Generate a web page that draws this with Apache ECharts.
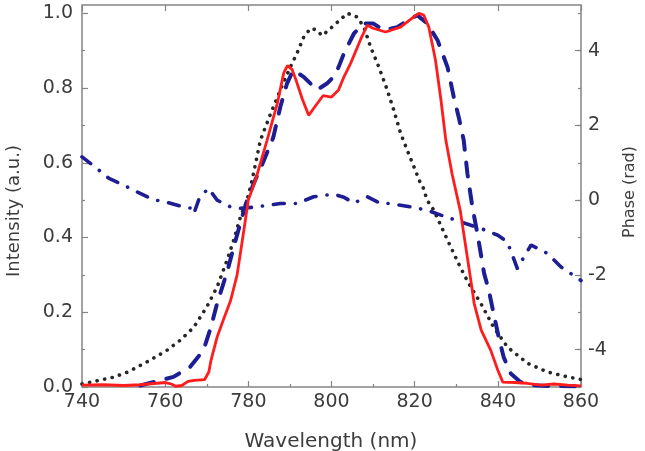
<!DOCTYPE html>
<html>
<head>
<meta charset="utf-8">
<script src="https://cdn.jsdelivr.net/npm/echarts@6/dist/echarts.min.js"></script>
<style>html,body{margin:0;padding:0;background:#fff;}#c{width:645px;height:451px;}</style>
</head>
<body>
<div id="c"></div>
<script>
// Axis tick values
var xTicks = [740, 760, 780, 800, 820, 840, 860];
var intensityTicks = [0.0, 0.2, 0.4, 0.6, 0.8, 1.0];
var phaseTicks = [-4, -2, 0, 2, 4];

// Red solid: measured intensity
var redWl  = [740,745,750,754,758,760,761.5,762.5,764,765.5,767,769.5,770.5,771,772.5,774,775.7,777.3,778.8,780,781.7,784.5,787,788.5,789.4,790.5,791.5,793,794.5,796,798,800,801.7,803,804.6,807,808.6,810,813,816.6,819.4,821,822.2,823.4,825,826.3,827.5,829,830.2,831,832.3,833.5,834.3,836,838.3,840,841.2,844,847,850.4,853.5,856.8,860];
var redInt = [0.005,0.006,0.004,0.006,0.01,0.012,0.008,0.002,0.004,0.015,0.018,0.02,0.04,0.07,0.134,0.18,0.23,0.30,0.41,0.50,0.553,0.66,0.76,0.84,0.86,0.85,0.82,0.77,0.727,0.75,0.78,0.776,0.795,0.83,0.866,0.93,0.968,0.96,0.95,0.963,0.987,1.0,0.995,0.963,0.875,0.77,0.66,0.57,0.51,0.47,0.374,0.286,0.224,0.152,0.098,0.045,0.013,0.012,0.01,0.005,0.008,0.005,0.003];

// Black dotted: spectrum
var dotWl  = [740,743,747.5,751,755.6,760.4,763.6,766.9,770,772.5,774.9,776.4,778.1,779.7,780.9,782.9,785.3,787.7,790.1,791.7,793.3,795,796.5,797.7,799.3,801.4,803.8,806.2,807.8,809.4,811.4,813.4,815,816.6,818.2,819.8,821.4,822,823,824.6,827.9,831,833,835.9,839,842.3,847.2,852,856.8,860];
var dotInt = [0.008,0.015,0.026,0.04,0.067,0.098,0.125,0.16,0.214,0.268,0.34,0.39,0.455,0.5,0.553,0.66,0.73,0.795,0.856,0.893,0.936,0.96,0.955,0.94,0.955,0.976,1.0,0.99,0.963,0.91,0.856,0.795,0.74,0.68,0.634,0.59,0.545,0.535,0.5,0.473,0.393,0.32,0.277,0.224,0.16,0.107,0.063,0.04,0.027,0.02];

// Blue dashed: target intensity
var dashWl  = [754,757.1,762,766,769.2,771,772.5,775,776.5,778.5,779.7,781.5,783.5,786,787.7,789.3,790.8,793.3,796.5,798.9,800.5,801.7,803,805.4,807.8,810,812.5,815.8,818.2,820.6,823,825.5,827.9,829.4,830.6,831.8,832.7,833.9,835.1,836.7,837.8,839,840.2,841.4,843.1,845.5,848.7,852,860];
var dashInt = [0.004,0.013,0.027,0.054,0.098,0.16,0.224,0.312,0.375,0.455,0.5,0.55,0.6,0.668,0.75,0.812,0.848,0.83,0.795,0.812,0.83,0.856,0.893,0.946,0.973,0.973,0.955,0.963,0.98,0.995,0.973,0.928,0.856,0.776,0.722,0.66,0.57,0.48,0.41,0.304,0.26,0.196,0.134,0.08,0.036,0.013,0.005,0.003,0.002];

// Blue dash-dot: phase (rad), right axis
var phaseWl  = [740,743,746.5,750,754,757,760.4,764.4,766.4,766.9,768.2,770.4,772.5,775.7,778,782,787.7,791.7,795.7,800.5,803,805.3,808.6,811.8,814,819,823,826.3,831,836,840,842.3,844.7,846.3,848,852,855.2,860];
var phaseVal = [1.16,0.9,0.58,0.4,0.18,0.02,-0.06,-0.18,-0.22,-0.36,0.05,0.32,0.0,-0.18,-0.22,-0.18,-0.09,-0.09,0.09,0.16,0.08,-0.08,0.09,-0.09,-0.09,-0.18,-0.27,-0.4,-0.58,-0.76,-0.94,-1.12,-1.83,-1.52,-1.2,-1.43,-1.79,-2.15];

function zip(a, b) { return a.map(function (v, i) { return [v, b[i]]; }); }

var FONT = 'DejaVu Sans';
var TXT = '#3c3c3c';
var FRAME = '#858585';

var chart = echarts.init(document.getElementById('c'), null, {renderer: 'canvas'});
var L = 82, R = 64, B = 64;
var topA = 13.3;
var hA = 451 - topA - B;
var mid = topA + hA / 2, unit = hA / 10;

chart.setOption({
  animation: false,
  backgroundColor: '#ffffff',
  grid: [
    {left: L, right: R, top: 5, bottom: B, show: true, borderColor: FRAME, borderWidth: 1.5, backgroundColor: 'transparent'},
    {left: L, right: R, top: topA, bottom: B},
    {left: L, right: R, top: mid - 4 * unit, bottom: 451 - (mid + 4 * unit)}
  ],
  xAxis: [
    {gridIndex: 0, type: 'value', position: 'bottom', min: xTicks[0], max: xTicks[xTicks.length - 1], interval: 20,
     axisLine: {show: false}, splitLine: {show: false},
     axisTick: {show: true, inside: true, length: 6, lineStyle: {color: FRAME, width: 1.2}},
     minorTick: {show: true, splitNumber: 2, length: 3, lineStyle: {color: FRAME, width: 1.2}},
     axisLabel: {show: true, margin: 6, fontSize: 19, fontFamily: FONT, color: TXT}},
    {gridIndex: 0, type: 'value', position: 'top', min: xTicks[0], max: xTicks[xTicks.length - 1], interval: 20,
     axisLine: {show: false}, splitLine: {show: false},
     axisTick: {show: true, inside: true, length: 6, lineStyle: {color: FRAME, width: 1.2}},
     axisLabel: {show: false}},
    {gridIndex: 1, type: 'value', min: 740, max: 860, show: false},
    {gridIndex: 2, type: 'value', min: 740, max: 860, show: false}
  ],
  yAxis: [
    {gridIndex: 0, type: 'value', min: 0, max: 1, show: false},
    {gridIndex: 1, type: 'value', position: 'left', min: intensityTicks[0], max: intensityTicks[intensityTicks.length - 1], interval: 0.2,
     axisLine: {show: false}, splitLine: {show: false},
     axisTick: {show: true, inside: true, length: 6, lineStyle: {color: FRAME, width: 1.2}},
     minorTick: {show: true, splitNumber: 2, length: 3, lineStyle: {color: FRAME, width: 1.2}},
     axisLabel: {show: true, margin: 9, fontSize: 19, fontFamily: FONT, color: TXT,
                 formatter: function (v) { return v.toFixed(1); }}},
    {gridIndex: 1, type: 'value', position: 'right', min: -5, max: 5, interval: 1,
     axisLine: {show: false}, splitLine: {show: false},
     axisTick: {show: true, inside: true, length: 3, lineStyle: {color: FRAME, width: 1.2}},
     axisLabel: {show: false}},
    {gridIndex: 2, type: 'value', position: 'right', min: phaseTicks[0], max: phaseTicks[phaseTicks.length - 1], interval: 2,
     axisLine: {show: false}, splitLine: {show: false},
     axisTick: {show: true, inside: true, length: 6, lineStyle: {color: FRAME, width: 1.2}},
     axisLabel: {show: true, margin: 7, fontSize: 19, fontFamily: FONT, color: TXT}}
  ],
  series: [
    {type: 'line', name: 'dotted', xAxisIndex: 2, yAxisIndex: 1, data: zip(dotWl, dotInt), showSymbol: false,
     lineStyle: {color: '#262626', width: 3.6, type: [0.1, 7.6], cap: 'round'}},
    {type: 'line', name: 'phase', xAxisIndex: 2, yAxisIndex: 2, data: zip(phaseWl, phaseVal), showSymbol: false,
     lineStyle: {color: '#1e1e94', width: 3.6, type: [11, 11, 0.1, 11], cap: 'round'}},
    {type: 'line', name: 'dashed', xAxisIndex: 2, yAxisIndex: 1, data: zip(dashWl, dashInt), showSymbol: false,
     lineStyle: {color: '#1e1e94', width: 4, type: [14, 13], cap: 'round'}},
    {type: 'line', name: 'red', xAxisIndex: 2, yAxisIndex: 1, data: zip(redWl, redInt), showSymbol: false,
     lineStyle: {color: '#ff1c1c', width: 2.8}}
  ],
  graphic: [
    {type: 'text', x: 14, y: 211, rotation: Math.PI / 2,
     style: {text: 'Intensity (a.u.)', fontSize: 18, fontFamily: FONT, fill: TXT, textAlign: 'center', textVerticalAlign: 'middle'}},
    {type: 'text', x: 630, y: 192, rotation: Math.PI / 2,
     style: {text: 'Phase (rad)', fontSize: 16, fontFamily: FONT, fill: TXT, textAlign: 'center', textVerticalAlign: 'middle'}},
    {type: 'text', x: 331, y: 442,
     style: {text: 'Wavelength (nm)', fontSize: 20, fontFamily: FONT, fill: TXT, textAlign: 'center', textVerticalAlign: 'middle'}}
  ]
});
</script>
</body>
</html>
